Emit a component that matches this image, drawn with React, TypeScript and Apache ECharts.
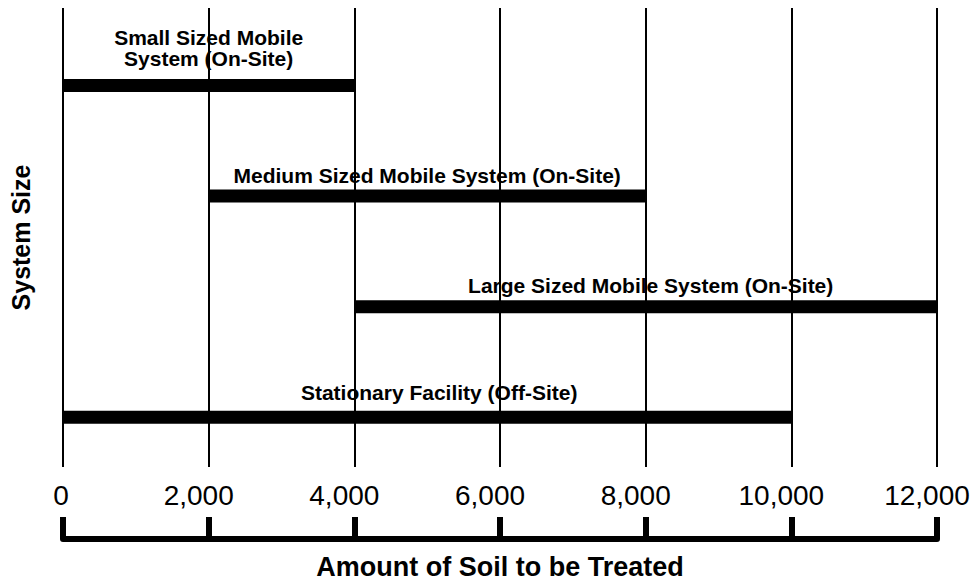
import React, { useEffect, useRef } from "react";
import * as echarts from "echarts";

const systemLabels = [
  "Small Sized Mobile\nSystem (On-Site)",
  "Medium Sized Mobile System (On-Site)",
  "Large Sized Mobile System (On-Site)",
  "Stationary Facility (Off-Site)",
];
const rangeStart = [0, 2000, 4000, 0];
const rangeEnd = [4000, 8000, 12000, 10000];
const xTicks = [0, 2000, 4000, 6000, 8000, 10000, 12000];
const xTitle = "Amount of Soil to be Treated";
const yTitle = "System Size";

// label placement tweaks (style only)
const labelLift = [10, 4, 4, 8];
const labelDx = [0, 0, 5, 12];

const FONT = "'Liberation Sans', Arial, Helvetica, sans-serif";

function withCommas(v: number): string {
  const s = String(Math.round(v));
  return s.replace(/\B(?=(\d{3})+(?!\d))/g, ",");
}

export default function App() {
  const ref = useRef<HTMLDivElement>(null);
  useEffect(() => {
    if (!ref.current) return;
    const chart = echarts.init(ref.current, undefined, { renderer: "svg" });
    const data = systemLabels.map((_, i) => [rangeStart[i], rangeEnd[i], i]);
    const xMin = xTicks[0];
    const xMax = xTicks[xTicks.length - 1];
    const xInt = xTicks[1] - xTicks[0];
    const tickFont = { fontSize: 28, fontFamily: FONT, color: "#000" };
    chart.setOption({
      animation: false,
      backgroundColor: "#ffffff",
      grid: { left: 63, right: 42, top: 8, bottom: 118 },
      xAxis: [
        {
          type: "value",
          min: xMin,
          max: xMax,
          interval: xInt,
          position: "bottom",
          axisLine: { show: false },
          axisTick: { show: false },
          splitLine: { show: true, lineStyle: { color: "#000", width: 2 } },
          axisLabel: {
            show: true,
            margin: 14,
            ...tickFont,
            formatter: (v: number) =>
              v === 0 ? `{z|${withCommas(v)}}` : `{n|${withCommas(v)}}`,
            rich: {
              z: { ...tickFont, padding: [0, 4, 0, 0] },
              n: { ...tickFont, padding: [0, 20, 0, 0] },
            },
          },
        },
        {
          type: "value",
          min: xMin,
          max: xMax,
          interval: xInt,
          position: "bottom",
          offset: 72,
          axisLine: { show: true, lineStyle: { color: "#000", width: 6 } },
          axisTick: { show: true, inside: true, length: 22, lineStyle: { color: "#000", width: 6 } },
          splitLine: { show: false },
          axisLabel: { show: false },
          name: xTitle,
          nameLocation: "middle",
          nameGap: 14,
          nameTextStyle: {
            fontSize: 27,
            fontWeight: "bold",
            fontFamily: FONT,
            color: "#000",
            verticalAlign: "top",
          },
        },
      ],
      yAxis: {
        type: "value",
        inverse: true,
        min: -0.7,
        max: 3.45,
        axisLine: { show: false },
        axisTick: { show: false },
        axisLabel: { show: false },
        splitLine: { show: false },
        name: yTitle,
        nameLocation: "middle",
        nameGap: 30,
        nameRotate: 90,
        nameTextStyle: {
          fontSize: 25,
          fontWeight: "bold",
          fontFamily: FONT,
          color: "#000",
        },
      },
      series: [
        {
          type: "custom",
          xAxisIndex: 0,
          yAxisIndex: 0,
          data,
          renderItem: (params: any, api: any) => {
            const i = params.dataIndex;
            const idx = api.value(2);
            const s = api.coord([api.value(0), idx]);
            const e = api.coord([api.value(1), idx]);
            const h = 13;
            const label = systemLabels[i];
            const barTop = s[1] - h / 2;
            return {
              type: "group",
              children: [
                {
                  type: "rect",
                  shape: { x: s[0], y: barTop, width: e[0] - s[0], height: h },
                  style: { fill: "#000" },
                },
                {
                  type: "text",
                  x: (s[0] + e[0]) / 2 + labelDx[i],
                  y: barTop - labelLift[i],
                  style: {
                    text: label,
                    fill: "#000",
                    fontSize: 21,
                    fontWeight: "bold",
                    fontFamily: FONT,
                    lineHeight: 21,
                    align: "center",
                    verticalAlign: "bottom",
                  },
                },
              ],
            };
          },
        },
      ],
    });
    return () => chart.dispose();
  }, []);
  return (
    <div
      ref={ref}
      style={{ position: "fixed", left: 0, top: 0, width: 979, height: 585 }}
    />
  );
}
